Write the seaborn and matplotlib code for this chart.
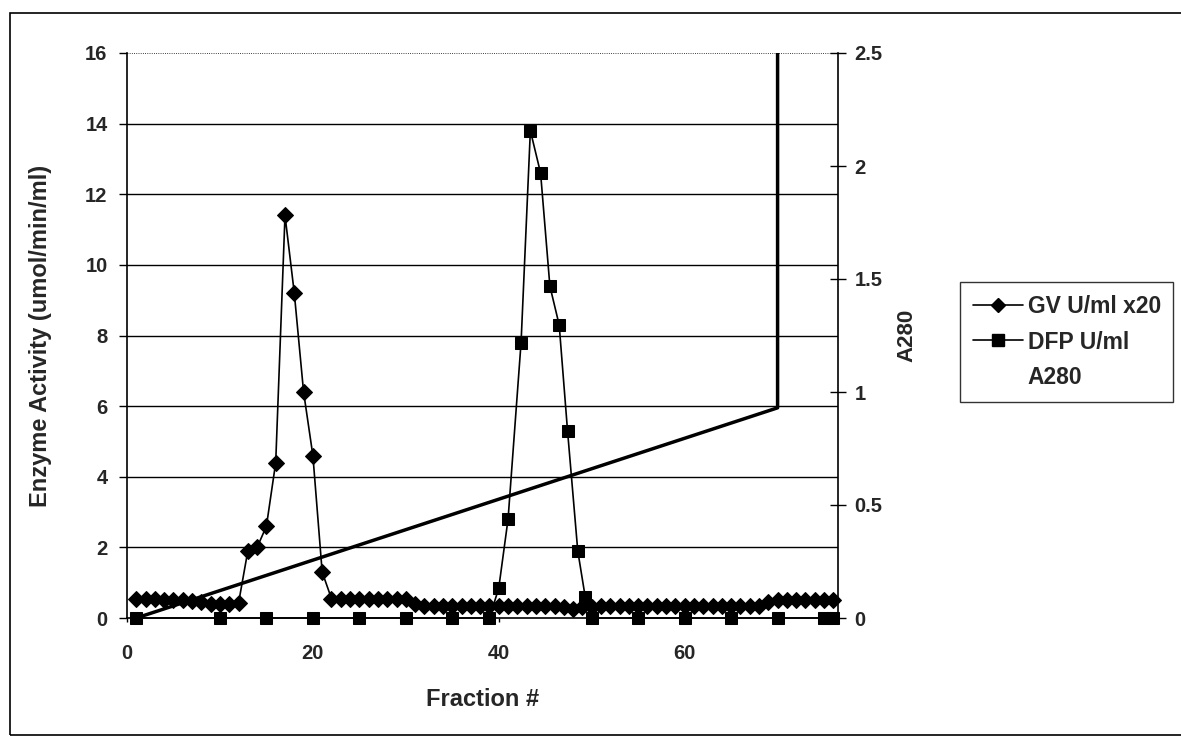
import matplotlib
matplotlib.use("Agg")
import matplotlib.pyplot as plt
import seaborn as sns
import numpy as np
from matplotlib.lines import Line2D
from matplotlib.patches import Rectangle

# ---- data ----
gv_x = list(range(1, 77))
gv_y = [0.55, 0.55, 0.55, 0.52, 0.52, 0.5, 0.48, 0.45, 0.4, 0.4, 0.4, 0.42,
        1.9, 2.0, 2.6, 4.4, 11.4, 9.2, 6.4, 4.6, 1.3, 0.55,
        0.55, 0.55, 0.55, 0.55, 0.55, 0.55, 0.55, 0.55, 0.4,
        0.35, 0.35, 0.35, 0.35, 0.35, 0.35, 0.35, 0.35, 0.35, 0.35,
        0.35, 0.35, 0.35, 0.35, 0.35, 0.32, 0.25, 0.3, 0.3,
        0.33, 0.33, 0.33, 0.33, 0.33, 0.33, 0.33, 0.33, 0.33, 0.33,
        0.33, 0.33, 0.33, 0.33, 0.33, 0.33, 0.33, 0.35, 0.45, 0.5,
        0.5, 0.5, 0.5, 0.5, 0.5, 0.5]

dfp_x = [1, 10, 15, 20, 25, 30, 35, 39, 40, 41, 42.4, 43.4, 44.5, 45.5,
         46.5, 47.4, 48.5, 49.3, 50, 55, 60, 65, 70, 75, 76]
dfp_y = [0, 0, 0, 0, 0, 0, 0, 0, 0.85, 2.8, 7.8, 13.8, 12.6, 9.4,
         8.3, 5.3, 1.9, 0.6, 0, 0, 0, 0, 0, 0, 0]

grad_x = [1, 70, 70]
grad_y = [0, 0.93, 2.5]

left_ticks = [0, 2, 4, 6, 8, 10, 12, 14, 16]
right_ticks = [0, 0.5, 1, 1.5, 2, 2.5]
right_labels = ["0", "0.5", "1", "1.5", "2", "2.5"]
x_ticks = [0, 20, 40, 60]

sns.set_style("white")
plt.rcParams['font.family'] = ['Liberation Sans', 'DejaVu Sans']
plt.rcParams['font.weight'] = 'bold'

fig = plt.figure(figsize=(11.81, 7.52), dpi=100)
ax = fig.add_axes([127/1181, 1-618/752, (838-127)/1181, (618-53)/752])
ax2 = ax.twinx()

# gridlines
for t in left_ticks[1:]:
    ax.axhline(t, color='black', lw=1.0 if t < 16 else 0.6,
               ls='-' if t < 16 else ':', zorder=0)

sns.lineplot(x=gv_x, y=gv_y, ax=ax, color='black', lw=1.2, marker='D',
             markersize=8, markeredgecolor='black', sort=False,
             estimator=None, label='GV U/ml x20', legend=False, clip_on=False)
sns.lineplot(x=dfp_x, y=dfp_y, ax=ax, color='black', lw=1.2, marker='s',
             markersize=9, markeredgecolor='black', sort=False,
             estimator=None, label='DFP U/ml', legend=False, clip_on=False)
sns.lineplot(x=grad_x, y=grad_y, ax=ax2, color='black', lw=2.5,
             sort=False, estimator=None, legend=False)

ax.set_xlim(0, 76.5)
ax.set_ylim(0, 16)
ax2.set_ylim(0, 2.5)
ax.set_xticks(x_ticks)
ax.set_yticks(left_ticks)
ax2.set_yticks(right_ticks)
ax2.set_yticklabels(right_labels)

for a in (ax, ax2):
    a.tick_params(labelsize=14.5, width=1.0, length=6, color='black')
    for s in a.spines.values():
        s.set_visible(False)
ax.spines['left'].set_visible(True)
ax.spines['bottom'].set_visible(True)
ax2.spines['right'].set_visible(True)
for s in ('left', 'bottom'):
    ax.spines[s].set_color('black'); ax.spines[s].set_linewidth(1.2)
ax2.spines['right'].set_color('black'); ax2.spines['right'].set_linewidth(1.2)
ax.tick_params(axis='y', direction='out', left=True, pad=8)
ax.tick_params(axis='x', direction='out', bottom=True, length=3, pad=16)
ax2.tick_params(axis='y', direction='inout', right=True, length=12, pad=6)

ax.set_xlabel('Fraction #', fontsize=17, fontweight='bold', labelpad=18)
ax.set_ylabel('Enzyme Activity (umol/min/ml)', fontsize=17, fontweight='bold', labelpad=24)
ax2.set_ylabel('A280', fontsize=16, fontweight='bold', labelpad=10)

handles = [
    Line2D([], [], color='black', lw=1.2, marker='D', markersize=7),
    Line2D([], [], color='black', lw=1.2, marker='s', markersize=8),
    Line2D([], [], color='none', lw=1.2),
]
labels = ['GV U/ml x20', 'DFP U/ml', 'A280']
leg = fig.legend(handles, labels, loc='center left',
                 bbox_to_anchor=(960/1181, 1-342/752), fontsize=16.5,
                 frameon=True, fancybox=False, edgecolor='black',
                 handlelength=2.2, numpoints=1, borderpad=0.55,
                 labelspacing=0.55, handletextpad=0.2, borderaxespad=0.0)
leg.get_frame().set_linewidth(1.0)

fig.patches.append(Rectangle((10/1181, 1-735/752), 1175/1181, (735-13)/752,
                             transform=fig.transFigure, fill=False,
                             edgecolor='black', lw=1.2))

fig.savefig('out.png', dpi=100)
